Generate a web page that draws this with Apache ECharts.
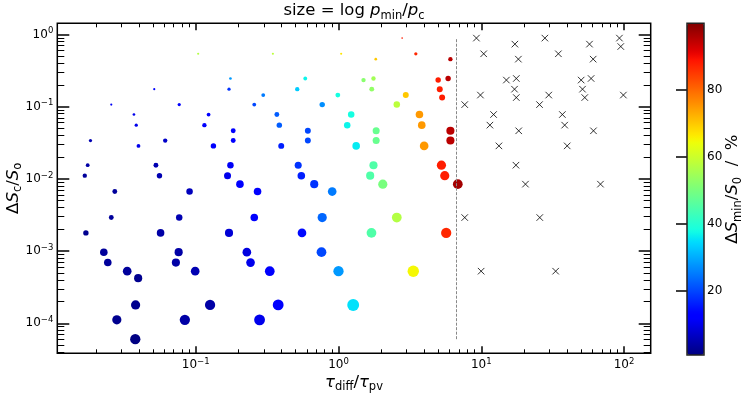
<!DOCTYPE html>
<html>
<head>
<meta charset="utf-8">
<script src="https://cdn.jsdelivr.net/npm/echarts@6/dist/echarts.min.js"></script>
<style>
  html, body { margin: 0; padding: 0; background: #fff; }
  #chart { width: 748px; height: 396px; }
</style>
</head>
<body>
<div id="chart"></div>
<script>
// coloured points: tau_diff/tau_pv, dS_c/S_o, dS_min/S_0 (%), log p_min/p_c
const tau = [
  0.104, 0.347, 0.175, 0.0512, 0.171, 0.297, 0.514, 0.0256, 0.0766, 0.257,
  0.0369, 0.123, 0.370, 0.0383, 0.115, 0.385, 0.183, 0.0183, 0.0611, 0.183,
  0.0397, 0.133, 0.397, 0.0175, 0.0526, 0.175, 0.522, 0.0167, 0.0557, 0.167,
  0.549, 0.204, 0.0271, 0.0905, 0.271, 0.0256, 0.0766, 0.257, 0.0170, 0.0567,
  0.171, 0.555, 0.0227, 0.0759, 0.228, 0.0242, 0.0726, 0.242, 0.0331, 0.0991,
  0.330, 0.0395, 0.0379, 0.126, 0.378, 0.0280, 0.0839, 0.280, 0.0377,
  2.79, 1.044, 1.824, 3.48, 6.08, 0.585, 1.497, 1.758, 4.99, 5.86,
  0.989, 1.71, 2.96, 5.12, 5.32, 0.769, 2.56, 1.227, 3.69, 1.151,
  3.83, 0.610, 1.836, 6.08, 0.610, 1.836, 6.08, 1.330, 3.98, 1.758,
  5.26, 1.667, 5.55, 0.676, 2.043, 6.85, 0.903, 0.769, 2.56, 1.702,
  5.68, 0.760, 1.0, 3.34, 1.267
];
const dS = [
  0.541, 0.541, 0.246, 0.175, 0.175, 0.145, 0.175, 0.107, 0.107, 0.107,
  0.078, 0.078, 0.078, 0.0556, 0.0556, 0.0556, 0.0464, 0.034, 0.034, 0.034,
  0.0287, 0.0287, 0.0287, 0.0155, 0.0155, 0.0155, 0.0155, 0.0111, 0.0111, 0.0111,
  0.0111, 0.00847, 0.00669, 0.00669, 0.00669, 0.00292, 0.00292, 0.00292, 0.00179, 0.00179,
  0.00179, 0.00179, 0.000968, 0.000968, 0.000968, 0.000695, 0.000695, 0.000695, 0.000528, 0.000528,
  0.000528, 0.000423, 0.000180, 0.000180, 0.000180, 0.000112, 0.000112, 0.000112, 0.0000604,
  0.892, 0.541, 0.456, 0.541, 0.456, 0.246, 0.234, 0.246, 0.234, 0.246,
  0.145, 0.175, 0.145, 0.175, 0.134, 0.107, 0.107, 0.078, 0.078, 0.0556,
  0.0556, 0.0464, 0.0464, 0.0464, 0.034, 0.034, 0.034, 0.0287, 0.0287, 0.0155,
  0.0155, 0.0111, 0.0111, 0.00847, 0.00847, 0.00847, 0.00669, 0.00292, 0.00292, 0.00179,
  0.00179, 0.000968, 0.000528, 0.000528, 0.000180
];
const dSmin = [
  57, 58, 28, 12, 18, 25, 33, 11, 12, 20,
  10, 12, 22, 10, 12, 22, 13, 5, 7, 13,
  10, 12, 16, 4, 5, 11, 18, 3, 5, 10,
  16, 13, 3, 6, 12, 3, 5, 12, 2, 4,
  8, 14, 3, 4, 9, 3, 4, 10, 3, 5,
  12, 2, 2, 4, 12, 2, 4, 10, 1,
  88, 67, 70, 87, 95, 37, 52, 55, 88, 95,
  38, 53, 70, 88, 88, 27, 58, 38, 75, 37,
  75, 20, 48, 95, 20, 48, 95, 36, 75, 45,
  88, 45, 88, 18, 50, 97, 25, 23, 57, 45,
  87, 20, 28, 65, 35
];
const logp = [
  0.44, 0.44, 0.69, 0.44, 1.0, 1.36, 1.78, 0.44, 1.0, 1.36,
  0.69, 1.36, 2.25, 1.0, 1.78, 2.78, 2.25, 1.0, 1.78, 2.25,
  1.36, 2.78, 3.36, 1.36, 2.25, 4.0, 4.69, 1.78, 2.78, 4.69,
  5.44, 5.44, 2.25, 4.0, 5.44, 2.25, 4.0, 5.44, 2.78, 5.44,
  6.25, 7.11, 5.44, 6.25, 7.11, 5.44, 6.25, 7.11, 7.11, 7.11,
  9.0, 6.25, 8.03, 10.0, 11.1, 8.03, 10.0, 11.1, 10.0,
  0.25, 0.44, 0.69, 1.0, 1.78, 1.36, 1.78, 1.78, 2.78, 2.78,
  2.25, 2.25, 3.36, 3.36, 3.36, 2.78, 4.0, 4.0, 5.44, 4.0,
  5.44, 3.36, 4.69, 6.25, 3.36, 4.69, 6.25, 5.44, 7.11, 6.25,
  8.03, 6.25, 8.03, 6.25, 8.03, 9.0, 7.11, 8.03, 9.0, 9.0,
  10.0, 9.0, 10.0, 12.3, 13.4
];

// cases without a minimum (black crosses)
const crossTau = [
  9.25, 17.2, 27.9, 57.3, 92.9, 94.9, 10.4, 18.2, 34.7, 60.8,
  15.0, 17.6, 50.1, 58.8, 17.1, 51.2, 9.87, 17.6, 29.7, 53.1,
  99.0, 7.66, 25.6, 12.2, 37.0, 11.5, 38.4, 18.3, 61.1, 13.3,
  40.0, 17.5, 20.4, 68.4, 7.66, 25.7, 9.98, 33.2
];
const crossDS = [
  0.892, 0.736, 0.892, 0.736, 0.892, 0.682, 0.541, 0.456, 0.541, 0.456,
  0.234, 0.246, 0.234, 0.246, 0.175, 0.175, 0.145, 0.134, 0.145, 0.134,
  0.145, 0.107, 0.107, 0.078, 0.078, 0.0556, 0.0556, 0.0464, 0.0464, 0.0287,
  0.0287, 0.0155, 0.00847, 0.00847, 0.00292, 0.00292, 0.000528, 0.000528
];

const TAU_LIMIT = 6.67;
const xMajor = [0.1, 1, 10, 100];
const yMajor = [0.0001, 0.001, 0.01, 0.1, 1];
const cbarTicks = [20, 40, 60, 80];
const X_MIN = 0.01072, X_MAX = 153.8;
const Y_MIN = 3.85e-5, Y_MAX = 1.43;
const C_MIN = 0.7, C_MAX = 100;

function minorTicks(lo, hi) {
  const out = [];
  for (let e = lo; e <= hi; e++) {
    for (let m = 2; m <= 9; m++) out.push(+(m * Math.pow(10, e)).toPrecision(3));
  }
  return out;
}
const xMinor = minorTicks(-2, 2);
const yMinor = minorTicks(-5, 0);

// matplotlib jet
function jet(t) {
  const seg = pts => {
    for (let i = 1; i < pts.length; i++) {
      if (t <= pts[i][0]) {
        const [x0, y0] = pts[i - 1], [x1, y1] = pts[i];
        return y0 + (y1 - y0) * (t - x0) / (x1 - x0);
      }
    }
    return pts[pts.length - 1][1];
  };
  const r = seg([[0, 0], [0.35, 0], [0.66, 1], [0.89, 1], [1, 0.5]]);
  const g = seg([[0, 0], [0.125, 0], [0.375, 1], [0.64, 1], [0.91, 0], [1, 0]]);
  const b = seg([[0, 0.5], [0.11, 1], [0.34, 1], [0.65, 0], [1, 0]]);
  const h = v => Math.round(v * 255).toString(16).padStart(2, '0');
  return '#' + h(r) + h(g) + h(b);
}
const jetColors = [];
for (let i = 0; i <= 64; i++) jetColors.push(jet(i / 64));

const FONT = 'DejaVu Sans';
const rich = {
  n: { fontFamily: FONT, fontSize: 16.5, fontWeight: 'normal', color: '#000', lineHeight: 22, verticalAlign: 'middle' },
  i: { fontFamily: FONT, fontSize: 16.5, fontWeight: 'normal', color: '#000', lineHeight: 22, verticalAlign: 'middle', fontStyle: 'italic' },
  s: { fontFamily: FONT, fontSize: 11.5, fontWeight: 'normal', color: '#000', lineHeight: 11, verticalAlign: 'bottom' }
};
const tickRich = {
  b: { fontFamily: FONT, fontSize: 12, color: '#000', lineHeight: 16, verticalAlign: 'middle' },
  p: { fontFamily: FONT, fontSize: 8.5, color: '#000', lineHeight: 9, verticalAlign: 'top' }
};
const powLabel = v => {
  const e = Math.round(Math.log10(v));
  return '{b|10}{p|' + (e < 0 ? '\u2212' + (-e) : e) + '}';
};

const points = tau.map((t, i) => [t, dS[i], dSmin[i], logp[i]]);
const crosses = crossTau.map((t, i) => [t, crossDS[i]]);
const allDS = dS.concat(crossDS);
const dsLo = Math.min(...allDS), dsHi = Math.max(...allDS);

function logAxis(dim, pos, ticks, len, width, labels) {
  const isX = dim === 'x';
  return {
    type: 'log', gridIndex: 0, position: pos,
    min: isX ? X_MIN : Y_MIN, max: isX ? X_MAX : Y_MAX,
    axisLine: { show: false },
    splitLine: { show: false },
    axisTick: { show: true, inside: true, length: len, customValues: ticks,
      lineStyle: { color: '#000', width: width } },
    axisLabel: labels
      ? { show: true, customValues: ticks, formatter: powLabel, rich: tickRich, margin: 4 }
      : { show: false }
  };
}

const chart = echarts.init(document.getElementById('chart'), null, { renderer: 'canvas' });
chart.setOption({
  animation: false,
  backgroundColor: '#fff',
  title: {
    text: '{n|size = log }{i|p}{s|min}{n|/}{i|p}{s|c}',
    left: 354, top: 0, padding: 0, textAlign: 'center',
    textStyle: { fontWeight: 'normal', rich: rich }
  },
  grid: [
    { left: 57.3, top: 23.3, width: 593.4, height: 330, show: true, outerBoundsMode: 'none',
      containLabel: false, borderColor: '#000', borderWidth: 1.5, backgroundColor: 'transparent' },
    { left: 687, top: 23.3, width: 17, height: 331.7, show: true, z: 10, outerBoundsMode: 'none',
      containLabel: false, borderColor: '#222', borderWidth: 1.5, backgroundColor: 'transparent' }
  ],
  xAxis: [
    Object.assign(logAxis('x', 'bottom', xMajor, 7, 1.5, true), {
      name: '{i|τ}{s|diff}{n|/}{i|τ}{s|pv}', nameLocation: 'middle', nameGap: 18,
      nameMoveOverlap: false, nameTextStyle: { rich: rich }
    }),
    logAxis('x', 'bottom', xMinor, 4, 1, false),
    logAxis('x', 'top', xMajor, 7, 1.5, false),
    logAxis('x', 'top', xMinor, 4, 1, false),
    { type: 'value', gridIndex: 1, show: false, min: 0, max: 1 }
  ],
  yAxis: [
    Object.assign(logAxis('y', 'left', yMajor, 12, 1.5, true), {
      name: '{n|Δ}{i|S}{s|c}{n|/}{i|S}{s|o}', nameLocation: 'middle', nameGap: 33,
      nameMoveOverlap: false, nameRotate: 90, nameTextStyle: { rich: rich }
    }),
    logAxis('y', 'left', yMinor, 7, 1, false),
    logAxis('y', 'right', yMajor, 12, 1.5, false),
    logAxis('y', 'right', yMinor, 7, 1, false),
    {
      type: 'value', gridIndex: 1, position: 'right', min: C_MIN, max: C_MAX,
      axisLine: { show: false }, splitLine: { show: false },
      axisTick: { show: true, inside: true, length: 11, customValues: cbarTicks,
        lineStyle: { color: '#000', width: 1.5 } },
      axisLabel: { customValues: cbarTicks, margin: 3, fontFamily: FONT, fontSize: 12, color: '#000' },
      name: '{n|Δ}{i|S}{s|min}{n|/}{i|S}{s|0}{n|  /  %}', nameLocation: 'middle', nameGap: 18,
      nameMoveOverlap: false, nameRotate: 90, nameTextStyle: { rich: rich }
    }
  ],
  visualMap: {
    type: 'continuous', min: C_MIN, max: C_MAX, dimension: 2, seriesIndex: 0,
    calculable: false, orient: 'vertical', left: 687, top: 23.3,
    itemWidth: 17, itemHeight: 331.7, padding: 0, text: null,
    inRange: { color: jetColors }
  },
  series: [
    {
      type: 'scatter', xAxisIndex: 0, yAxisIndex: 0,
      data: points,
      symbol: 'circle',
      symbolSize: v => 3.25 * Math.sqrt(v[3]),
      itemStyle: { opacity: 1 },
      silent: true
    },
    {
      type: 'scatter', xAxisIndex: 0, yAxisIndex: 0,
      data: crosses,
      symbol: 'path://M0,0L10,10M10,0L0,10',
      symbolSize: 6.5,
      itemStyle: { color: 'rgba(0,0,0,0)', borderColor: '#000', borderWidth: 1 },
      silent: true,
      markLine: {
        silent: true, symbol: 'none', label: { show: false },
        lineStyle: { color: '#888', width: 1, type: [3, 1.5] },
        data: [[{ coord: [TAU_LIMIT, dsLo] }, { coord: [TAU_LIMIT, dsHi] }]]
      }
    }
  ]
});
</script>
</body>
</html>
